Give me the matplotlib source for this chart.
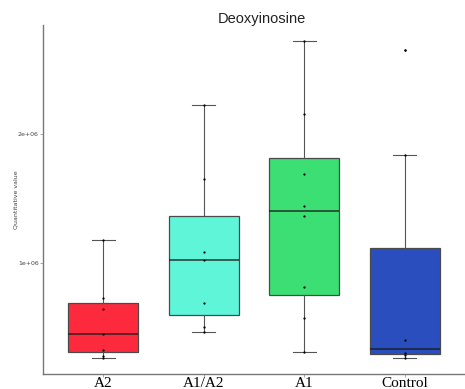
import matplotlib.pyplot as plt

groups = ['A2', 'A1/A2', 'A1', 'Control']
colors = ['#FD2A3D', '#5FF5D8', '#3CDF73', '#2A4EBD']

# box stats
q1 = [0.31e6, 0.599e6, 0.757e6, 0.295e6]
med = [0.45e6, 1.026e6, 1.405e6, 0.333e6]
q3 = [0.69e6, 1.369e6, 1.814e6, 1.121e6]
whislo = [0.264e6, 0.467e6, 0.315e6, 0.268e6]
whishi = [1.18e6, 2.227e6, 2.726e6, 1.84e6]
outliers = [[], [], [], [2.651e6]]

# individual samples (jittered points in the original, here centred)
points = [
    [1.18e6, 0.73e6, 0.646e6, 0.45e6, 0.33e6, 0.284e6, 0.264e6],
    [2.227e6, 1.651e6, 1.09e6, 1.026e6, 0.695e6, 0.506e6, 0.467e6],
    [2.726e6, 2.16e6, 1.695e6, 1.447e6, 1.364e6, 0.814e6, 0.574e6, 0.315e6],
    [2.651e6, 1.84e6, 0.405e6, 0.302e6, 0.289e6, 0.268e6],
]

fig = plt.figure(figsize=(4.65, 3.89), dpi=100)
ax = fig.add_axes([43 / 465, 15 / 389, 1 - 43 / 465, 349 / 389])

stats = []
for i, g in enumerate(groups):
    stats.append({'label': g, 'q1': q1[i], 'med': med[i], 'q3': q3[i],
                  'whislo': whislo[i], 'whishi': whishi[i], 'fliers': outliers[i]})

bp = ax.bxp(stats, positions=range(len(groups)), widths=0.7, patch_artist=True,
            boxprops={'edgecolor': '#4a4a4a', 'linewidth': 0.9},
            medianprops={'color': '#1a1a1a', 'linewidth': 1.2, 'alpha': 0.8},
            whiskerprops={'color': '#555555', 'linewidth': 0.8},
            capprops={'color': '#555555', 'linewidth': 0.8},
            flierprops={'marker': 'o', 'markersize': 1.6, 'markeredgewidth': 0,
                        'markerfacecolor': 'black'})
for patch, c in zip(bp['boxes'], colors):
    patch.set_facecolor(c)
for caps in bp['caps']:
    caps.set_xdata([caps.get_xdata()[0] + 0.06, caps.get_xdata()[1] - 0.06])

for i, pts in enumerate(points):
    ax.scatter([i] * len(pts), pts, s=2.6, color='black', zorder=3, linewidths=0)

ax.set_xlim(-0.6, 3.6)
ax.set_ylim(0.142e6, 2.848e6)
ax.set_yticks([1e6, 2e6])
ax.set_yticklabels(['1e+06', '2e+06'], fontsize=4.5, color='#444444')
ax.set_xticks(range(len(groups)))
ax.set_xticklabels(groups, fontsize=11, family='Liberation Serif')
ax.tick_params(axis='y', length=2, width=0.5, color='#888888', pad=1)
ax.tick_params(axis='x', length=2, width=0.5, color='#888888', pad=0)

for s in ['top', 'right']:
    ax.spines[s].set_visible(False)
for s in ['left', 'bottom']:
    ax.spines[s].set_color('#777777')
    ax.spines[s].set_linewidth(1.0)

fig.text(16 / 465, 1 - 200 / 389, 'Quantitative value', rotation=90, ha='center',
         va='center', fontsize=4.5, color='#444444')
fig.text(262 / 465, 1 - 19 / 389, 'Deoxyinosine', ha='center', va='center',
         fontsize=10.5, family='Liberation Sans', color='#222222')

fig.savefig('out.png', dpi=100)
